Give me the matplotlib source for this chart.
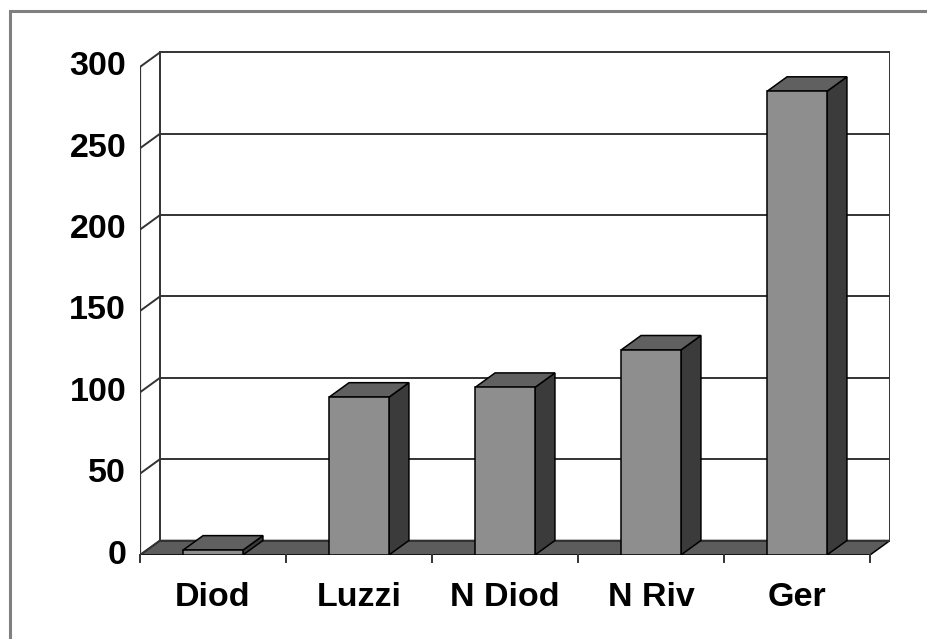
import numpy as np
from matplotlib import pyplot as plt
from matplotlib.patches import Polygon, Rectangle

categories = ['Diod', 'Luzzi', 'N Diod', 'N Riv', 'Ger']
values = [3, 97, 103, 126, 285]
y_ticks = [0, 50, 100, 150, 200, 250, 300]

W, H = 928, 639
# depth of the fake 3d box, in data units
DX = 20 / 146
DY = 14.5 / 1.627
BAR_W = 0.41

FRONT = '#8e8e8e'
SIDE = '#3b3b3b'
TOP = '#606060'
FLOOR = '#5c5c5c'

fig = plt.figure(figsize=(W / 100, H / 100), dpi=100)
ax = fig.add_axes([140 / W, (H - 555) / H, 750 / W, 505 / H])
ax.set_xlim(0, 750 / 146)
ax.set_ylim(0, 505 / 1.627)
ax.axis('off')

n = len(categories)
ymax = y_ticks[-1]


def poly(pts, fc, z, lw=1.1):
    ax.add_patch(Polygon(pts, closed=True, facecolor=fc, edgecolor='black',
                         linewidth=lw, zorder=z, joinstyle='miter'))


# floor
poly([(0, 0), (n, 0), (n + DX, DY), (DX, DY)], FLOOR, 1)

# back wall grid and walls
for t in y_ticks:
    ax.plot([DX, n + DX], [t + DY, t + DY], color='#333333', lw=1.4, zorder=2)
    ax.plot([0, DX], [t, t + DY], color='#333333', lw=1.4, zorder=2)
    ax.plot([-0.035, 0], [t, t], color='#333333', lw=1.4, zorder=2)
    ax.text(-0.095, t, str(t), ha='right', va='center', fontsize=24.5,
            fontweight='bold', family='Liberation Sans')
ax.plot([DX, DX], [DY, ymax + DY], color='#333333', lw=1.4, zorder=2)
ax.plot([n + DX, n + DX], [DY, ymax + DY], color='#333333', lw=1.4, zorder=2)
ax.plot([0, 0], [0, ymax], color='#333333', lw=1.6, zorder=2)

# x axis ticks and labels
for i in range(n + 1):
    ax.plot([i, i], [0, -4], color='#333333', lw=1.4, zorder=2,
            clip_on=False)
for i, c in enumerate(categories):
    ax.text(i + 0.5, -26, c, ha='center', va='center', fontsize=24.5,
            fontweight='bold', family='Liberation Sans')

# bars
for i, v in enumerate(values):
    x0 = i + 0.5 - BAR_W / 2
    x1 = i + 0.5 + BAR_W / 2
    poly([(x1, 0), (x1 + DX, DY), (x1 + DX, v + DY), (x1, v)], SIDE, 3)
    poly([(x0, v), (x1, v), (x1 + DX, v + DY), (x0 + DX, v + DY)], TOP, 3)
    poly([(x0, 0), (x1, 0), (x1, v), (x0, v)], FRONT, 4)

# outer frame
fig.patches.append(Rectangle((10 / W, -0.1), 1.2, (H - 11) / H + 0.1,
                             transform=fig.transFigure, fill=False,
                             edgecolor='#808080', linewidth=2.2))

fig.savefig('out.png', dpi=100)
